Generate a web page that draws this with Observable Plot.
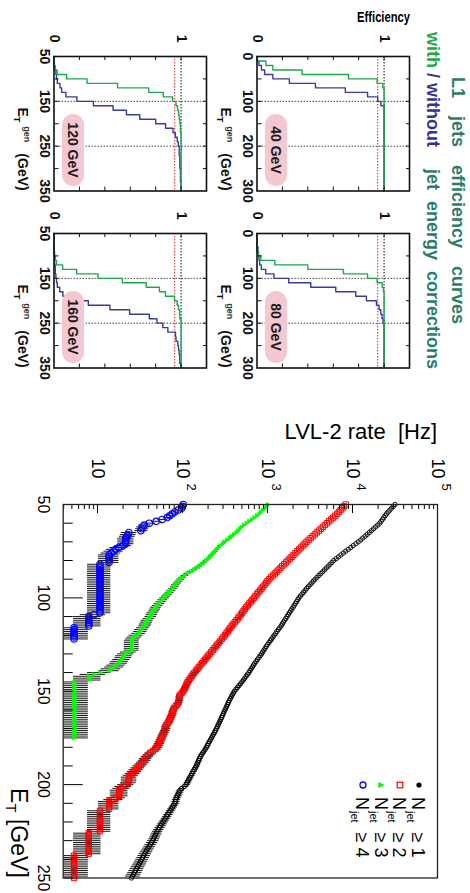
<!DOCTYPE html>
<html>
<head>
<meta charset="utf-8">
<script src="https://cdn.jsdelivr.net/npm/d3@7"></script>
<script src="https://cdn.jsdelivr.net/npm/@observablehq/plot@0.6"></script>
<style>
  html, body { margin:0; padding:0; background:#fff; width:470px; height:893px; overflow:hidden; }
  #page { position:absolute; left:0; top:0; width:893px; height:470px; transform-origin:0 0;
          transform:translate(470px,0) rotate(90deg);
          font-family:"Liberation Sans", Arial, Helvetica, sans-serif; color:#000; }
  .abs { position:absolute; white-space:pre; }
  .rot { transform-origin:0 0; transform:rotate(-90deg); }
</style>
</head>
<body>
<div id="page"></div>
<script>
// ================= DATA =================
// --- L1 jet efficiency panels: [E_T^gen (GeV), efficiency] step points ---
const effPanelNames = ["40 GeV", "80 GeV", "120 GeV", "160 GeV"];
const effXTicksLow  = [0, 100, 200, 300];
const effXTicksHigh = [50, 150, 250, 350];
const effYTicks = [0, 1];
const effFull = 1;
const effRef = 0.95;

const eff40With    = [[0,0],[10,0.07],[20,0.125],[30,0.355],[40,0.72],[50,0.945],[60,0.99],[70,1],[300,1]];
const eff40Without = [[0,0],[10,0.015],[20,0.035],[30,0.06],[40,0.125],[50,0.255],[60,0.46],[70,0.695],[80,0.87],[90,0.95],[100,0.975],[110,1],[300,1]];
const eff80With    = [[0,0],[40,0.01],[50,0.03],[60,0.14],[70,0.4],[80,0.68],[90,0.87],[100,0.945],[110,0.985],[120,0.995],[130,1],[300,1]];
const eff80Without = [[0,0],[30,0.008],[40,0.012],[50,0.016],[60,0.021],[70,0.034],[80,0.068],[90,0.134],[100,0.249],[110,0.423],[120,0.62],[130,0.777],[140,0.861],[150,0.94],[160,0.96],[170,0.974],[180,0.984],[190,0.992],[200,1],[300,1]];
const eff120With   = [[50,0],[80,0.025],[90,0.1],[100,0.26],[110,0.5],[120,0.745],[130,0.86],[140,0.933],[150,0.96],[160,0.972],[170,0.98],[180,0.985],[190,0.99],[200,0.995],[220,1],[350,1]];
const eff120Without= [[50,0],[70,0.008],[80,0.015],[90,0.02],[100,0.026],[110,0.047],[120,0.06],[130,0.094],[140,0.18],[150,0.31],[160,0.465],[170,0.57],[180,0.675],[190,0.8],[200,0.878],[210,0.937],[220,0.955],[230,0.97],[240,0.978],[250,0.985],[270,0.99],[300,0.995],[330,1],[350,1]];
const eff160With   = [[50,0],[90,0.005],[100,0.01],[110,0.02],[120,0.068],[130,0.178],[140,0.347],[150,0.538],[160,0.726],[170,0.83],[180,0.877],[190,0.948],[200,0.969],[210,0.98],[220,0.99],[240,1],[350,1]];
const eff160Without= [[50,0],[100,0.005],[120,0.01],[140,0.015],[150,0.02],[160,0.026],[170,0.045],[180,0.07],[190,0.15],[200,0.27],[210,0.44],[220,0.595],[230,0.75],[240,0.81],[250,0.856],[260,0.896],[270,0.956],[280,0.96],[290,0.974],[300,0.98],[310,0.985],[320,0.99],[340,1],[350,1]];

// --- LVL-2 rate vs E_T threshold (1 GeV steps starting at etFirst), Hz ---
const etFirst = 50;
const etTickLabels = [50, 100, 150, 200, 250];
const rateTickValues = [10, 100, 1000, 10000, 100000];
const rateTickExps = ["", "2", "3", "4", "5"];
const legendLabels = ["1", "2", "3", "4"];

const rateNjet1 = [
  31600,30200,28800,27500,26300,25100, 24200,23300,22500,21700,20900,
  19800,18700,17700,16700,15800, 14900,14100,13200,12500,11700,
  11000,10200,9550,8910,8320, 7800,7310,6850,6430,6030,
  5730,5450,5180,4920,4680, 4450,4230,4020,3820,3630,
  3470,3310,3160,3020,2880, 2770,2650,2550,2440,2340,
  2270,2200,2130,2060,2000, 1930,1870,1810,1750,1700,
  1640,1590,1540,1490,1450, 1390,1340,1290,1250,1200,
  1160,1120,1080,1040,1000, 968,938,908,879,851,
  820,791,762,735,708, 685,664,643,622,603,
  581,560,540,520,501, 481,461,443,425,407,
  396,385,375,365,355, 347,339,331,324,316,
  309,302,295,288,282, 275,269,263,257,251,
  244,238,231,225,219, 213,207,201,196,191,
  185,179,173,167,162, 158,155,151,148,145,
  141,137,133,129,126, 122,119,116,113,110,
  105,97.7,93.3,91.2,89.1, 87.1,85.1,83.2,82.2,81.3,
  78.7,76.2,73.8,71.4,69.2, 67.0,64.9,62.8,60.8,58.9,
  57.0,55.2,53.5,51.8,50.1, 49.0,47.9,46.8,45.7,44.7,
  43.3,41.9,40.6,39.3,38.0, 37.0,36.0,35.0,34.0,33.1,
  32.2,31.3,30.5,29.6,28.8, 28.1,27.3,26.5,25.8,25.1
];
const rateNjet2 = [
  8320,7940,7590,7240,6920,6610, 6250,5920,5600,5300,5010,
  4740,4490,4250,4020,3800, 3600,3400,3220,3050,2880,
  2740,2610,2480,2360,2240, 2130,2020,1920,1830,1740,
  1650,1570,1490,1420,1350, 1280,1220,1160,1100,1050,
  1000,964,925,887,851, 817,783,752,721,692,
  664,637,611,586,562, 542,522,504,485,468,
  449,431,413,396,380, 366,353,340,328,316,
  303,291,279,268,257, 247,237,227,218,209,
  200,192,185,177,170, 163,156,150,144,138,
  133,128,124,119,115, 112,110,107,105,102,
  97.7,93.3,91.2,91.2,91.2, 89.1,87.1,83.2,79.4,77.6,
  75.9,75.9,74.1,72.4,70.8, 69.2,67.6,64.6,63.1,63.1,
  61.7,60.3,58.9,57.5,56.2, 55.0,53.7,52.5,51.3,50.1,
  47.9,44.7,41.7,39.8,38.0, 36.3,35.5,33.9,32.4,30.9,
  29.5,28.2,26.9,25.7,24.5, 23.4,23.4,23.4,22.9,21.4,
  20.0,19.1,18.0,18.0,18.0, 18.0,16.6,15.5,13.7,13.7,
  13.7,13.7,13.7,10.7,10.7, 10.7,10.7,10.7,10.7,10.7,
  10.7,10.7,10.7,10.7,10.7, 7.9,7.9,7.9,7.9,7.9,
  7.9,7.9,7.9,7.9,7.9, 7.9,7.9,5.3,5.3,5.3,
  5.3,5.3,5.3,5.3,5.3, 5.3,5.3,5.3,5.3,5.3
];
const rateNjet3 = [
  1000,966,933,871,832, 794,741,692,646,603,
  562,525,490,468,447, 427,398,372,355,331,
  309,295,275,263,251, 240,229,219,209,200,
  186,178,166,155,145, 135,123,112,105,97.7,
  93.3,89.1,85.1,81.3,79.4, 75.9,72.4,69.2,66.1,63.1,
  60.3,57.5,55.0,52.5,50.1, 47.9,46.8,45.7,43.7,42.7,
  41.7,39.8,38.0,37.2,36.3, 35.5,33.9,32.4,31.6,30.2,
  28.2,26.9,25.7,25.1,25.1, 25.1,25.1,25.1,25.1,22.9,
  21.4,20.4,20.0,19.1,18.2, 17.8,16.6,15.8,14.5,13.8,
  10.7,9.1,7.9,7.9,7.9,
  5.3,5.3,5.3,5.3,5.3, 5.3,5.3,5.3,5.3,5.3,
  5.3,5.3,5.3,5.3,5.3, 5.3,5.3,5.3,5.3,5.3,
  5.3,5.3,5.3,5.3,5.3, 5.3,5.3,5.3,5.3,5.3, 5.3
];
const rateNjet4 = [
  102,100,97.7,89.1,81.3, 75.9,70.8,66.1,57.5,49.0,
  40.7,35.5,33.9,33.1,32.4, 23.4,22.9,22.4,21.5,21.5,
  21.5,21.5,20.0,17.8,16.4, 15.5,14.5,13.7,13.7,13.7,
  13.7,13.7,
  10.7,10.7,10.7,10.7,10.7, 10.7,10.7,10.7,10.7,10.7,
  10.7,10.7,10.7,10.7,10.7, 10.7,10.7,10.7,10.7,10.7,
  10.7,10.7,10.7,10.7,10.7, 10.7,10.7,
  9.1,
  7.9,7.9,7.9,7.9,7.9,7.9,
  5.3,5.3,5.3,5.3,5.3,5.3,5.3
];

// ================= LAYOUT =================
const FONT = "Liberation Sans, Arial, Helvetica, sans-serif";
const GREEN = "#1ea84c", BLUE = "#383c9c", TEAL = "#2b7d66";
const page = document.getElementById("page");
const addHTML = h => page.insertAdjacentHTML("beforeend", h);
function place(svg, left, top) {
  svg.style.position = "absolute"; svg.style.left = left + "px"; svg.style.top = top + "px";
  svg.style.maxWidth = "none";
  page.appendChild(svg);
}

// Titles
addHTML(`<div class="abs" style="left:77px;top:3px;font-weight:bold;font-size:18px;line-height:18px;color:${TEAL};word-spacing:13px">L1 jets efficiency curves</div>`);
addHTML(`<div class="abs" style="left:32px;top:28px;font-weight:bold;font-size:18px;line-height:18px;color:${TEAL}"><span style="color:#22aa4a">with</span> <span style="color:#333399">/ without</span><span style="word-spacing:6px">  jet energy corrections</span></div>`);
// "Efficiency" (condensed, rotated, aligned to the top of the upper panels)
addHTML(`<div class="abs" style="left:${22 - 0.85*14}px;top:${60 + 0.8*90}px;width:90px;text-align:right;font-weight:bold;font-size:14px;line-height:14px;transform-origin:0 0;transform:rotate(-90deg) scaleX(0.8)">Efficiency</div>`);

// Efficiency panels
const effPanels = [
  {name: effPanelNames[0], left: 56,  top: 60,  xDomain: [0, 300],  xTicks: effXTicksLow,  grid: [100, 200], w: eff40With,  wo: eff40Without},
  {name: effPanelNames[1], left: 233, top: 60,  xDomain: [0, 300],  xTicks: effXTicksLow,  grid: [100, 200], w: eff80With,  wo: eff80Without},
  {name: effPanelNames[2], left: 56,  top: 263, xDomain: [50, 350], xTicks: effXTicksHigh, grid: [150, 250], w: eff120With, wo: eff120Without},
  {name: effPanelNames[3], left: 233, top: 263, xDomain: [50, 350], xTicks: effXTicksHigh, grid: [150, 250], w: eff160With, wo: eff160Without}
];
const fw = 134.5, fh = 152.5;
for (const p of effPanels) {
  const mL = 34, mR = 8, mT = 8, mB = 26;
  const xMinor = d3.range(p.xDomain[0] + 50, p.xDomain[1], 50);
  const yMinor = d3.ticks(0.2, 1.0, 4);
  const svg = Plot.plot({
    width: fw + mL + mR, height: fh + mT + mB,
    marginLeft: mL, marginRight: mR, marginTop: mT, marginBottom: mB,
    x: {domain: p.xDomain, axis: null}, y: {domain: [0, 1.2], axis: null},
    style: {fontFamily: FONT, fontSize: "14px", fontWeight: "bold", overflow: "visible", background: "none", color: "#111"},
    marks: [
      Plot.ruleX(p.grid, {stroke: "#444", strokeWidth: 1, strokeDasharray: "1.5,1.5"}),
      Plot.ruleY([effFull], {stroke: "#111", strokeWidth: 1, strokeDasharray: "1.5,1.5"}),
      Plot.ruleY([effRef], {stroke: "#e8202a", strokeWidth: 1, strokeDasharray: "1.5,1.5"}),
      Plot.line(p.wo, {x: d => d[0], y: d => d[1], curve: "step-after", stroke: BLUE, strokeWidth: 1.4}),
      Plot.line(p.w,  {x: d => d[0], y: d => d[1], curve: "step-after", stroke: GREEN, strokeWidth: 1.4}),
      Plot.tickX(xMinor, {x: d => d, insetTop: fh - 4, stroke: "#111"}),
      Plot.tickX(xMinor, {x: d => d, insetBottom: fh - 4, stroke: "#111"}),
      Plot.tickY(yMinor, {y: d => d, insetRight: fw - 4, stroke: "#111"}),
      Plot.tickY(yMinor, {y: d => d, insetLeft: fw - 4, stroke: "#111"}),
      Plot.frame({stroke: "#111", strokeWidth: 1.6}),
      Plot.text(p.xTicks, {x: d => d, frameAnchor: "bottom", text: d => String(d), lineAnchor: "top", dy: 4}),
      Plot.text(effYTicks, {y: d => d, frameAnchor: "left", text: d => String(d), textAnchor: "end", lineAnchor: "middle", dx: -14})
    ]
  });
  place(svg, p.left - mL, p.top - mT);
  const fr = p.left + fw, fb = p.top + fh;
  addHTML(`<div class="abs" style="left:${p.left + 58}px;top:${fb - 8 - 22}px;width:72px;height:22px;border-radius:11px;background:#f5c7d0;text-align:center;font-weight:bold;font-size:14px;line-height:22px;color:#1a1a1a">${p.name}</div>`);
  const base = fb + 36.5;
  addHTML(`<div class="abs" style="left:${fr - 83}px;top:${base - 0.85*14}px;font-weight:bold;font-size:14px;line-height:14px;color:#111">E<span style="font-size:9px;position:relative;top:4px">T</span><span style="font-size:9px;position:relative;top:-6px;margin-left:4px;color:#333">gen</span><span style="margin-left:11px">(GeV)</span></div>`);
}

// LVL-2 rate plot
const RW = 373.5, RH = 374.3, RL = 504.3, RT = 31.7;
const rmL = 80, rmR = 12, rmT = 22, rmB = 50;
const series = rates => rates.map((r, i) => ({et: etFirst + i, rate: r}));
const s1 = series(rateNjet1), s2 = series(rateNjet2), s3 = series(rateNjet3), s4 = series(rateNjet4);
const allPts = [...s1, ...s2, ...s3, ...s4];
const logTicks = d3.scaleLog().domain([3.95, 1e5]).ticks();
const logMinor = logTicks.filter(t => !rateTickValues.includes(t));
const etMinor = d3.range(50, 251, 10).filter(t => t !== 100 && t !== 200);
const etMajor = [100, 200];

const rateSvg = Plot.plot({
  width: RW + rmL + rmR, height: RH + rmT + rmB,
  marginLeft: rmL, marginRight: rmR, marginTop: rmT, marginBottom: rmB,
  x: {domain: [50, 250], axis: null},
  y: {type: "log", domain: [3.95, 1e5], axis: null},
  style: {fontFamily: FONT, fontSize: "16px", overflow: "visible", background: "none", color: "#000"},
  marks: [
    Plot.ruleX(allPts, {x: "et", y1: d => d.rate - Math.sqrt(d.rate), y2: d => d.rate + Math.sqrt(d.rate), stroke: "#000", strokeWidth: 0.9, clip: true}),
    Plot.dot(s4, {x: "et", y: "rate", r: 3.2, stroke: "#0000ff", strokeWidth: 1.1, fill: "none"}),
    Plot.dot(s3, {x: "et", y: "rate", symbol: "triangle", r: 2.0, fill: "#00ff00", stroke: "none"}),
    Plot.dot(s2, {x: "et", y: "rate", symbol: "square", r: 3.0, stroke: "#ff0000", strokeWidth: 1, fill: "none"}),
    Plot.dot(s1, {x: "et", y: "rate", r: 2.2, stroke: "#000", strokeWidth: 0.9, fill: "none"}),
    Plot.tickY(rateTickValues, {y: d => d, insetRight: RW - 9, stroke: "#000"}),
    Plot.tickY(logMinor, {y: d => d, insetRight: RW - 5, stroke: "#000"}),
    Plot.tickX(etMajor, {x: d => d, insetTop: RH - 19, stroke: "#000"}),
    Plot.tickX(etMinor, {x: d => d, insetTop: RH - 9, stroke: "#000"}),
    Plot.frame({stroke: "#222", strokeWidth: 1.3}),
    Plot.text(etTickLabels, {x: d => d, frameAnchor: "bottom", text: d => String(d), lineAnchor: "top", dy: 14}),
    Plot.text(rateTickValues, {y: d => d, frameAnchor: "left", text: () => "10", textAnchor: "end", lineAnchor: "middle", dx: -26, fontSize: 18}),
    Plot.text(rateTickValues, {y: d => d, frameAnchor: "left", text: (d, i) => rateTickExps[i], textAnchor: "start", lineAnchor: "bottom", dx: -21, dy: -4.3, fontSize: 13})
  ]
});
place(rateSvg, RL - rmL, RT - rmT);

// axis titles
addHTML(`<div class="abs rot" style="left:${440 - 0.85*22}px;top:${33 + 220}px;width:220px;text-align:right;font-size:22px;line-height:22px">LVL-2 rate  [Hz]</div>`);
addHTML(`<div class="abs" style="left:${RL + RW - 150}px;top:${459.5 - 0.85*23}px;width:150px;text-align:right;font-size:23px;line-height:23px">E<span style="font-size:15px;position:relative;top:5px">T</span> [GeV]</div>`);

// legend
const legendMarkers = [
  `<circle cx="6" cy="6" r="2.6" fill="#000"/>`,
  `<rect x="3.2" y="3.2" width="5.6" height="5.6" fill="none" stroke="#ff0000" stroke-width="1.2"/>`,
  `<polygon points="6,2.6 9.3,8.6 2.7,8.6" fill="#00ff00"/>`,
  `<circle cx="6" cy="6" r="3" fill="none" stroke="#0000ff" stroke-width="1.3"/>`
];
legendLabels.forEach((k, i) => {
  const cy = 51 + i * 18.8;
  addHTML(`<svg class="abs" style="left:${785 - 6}px;top:${cy - 6}px" width="12" height="12">${legendMarkers[i]}</svg>`);
  addHTML(`<div class="abs" style="left:797px;top:${cy + 7 - 0.85*18}px;font-size:18px;line-height:18px">N<span style="font-size:11px;position:relative;top:5px;margin-left:1px">jet</span>  ≥ ${k}</div>`);
});
</script>
</body>
</html>
